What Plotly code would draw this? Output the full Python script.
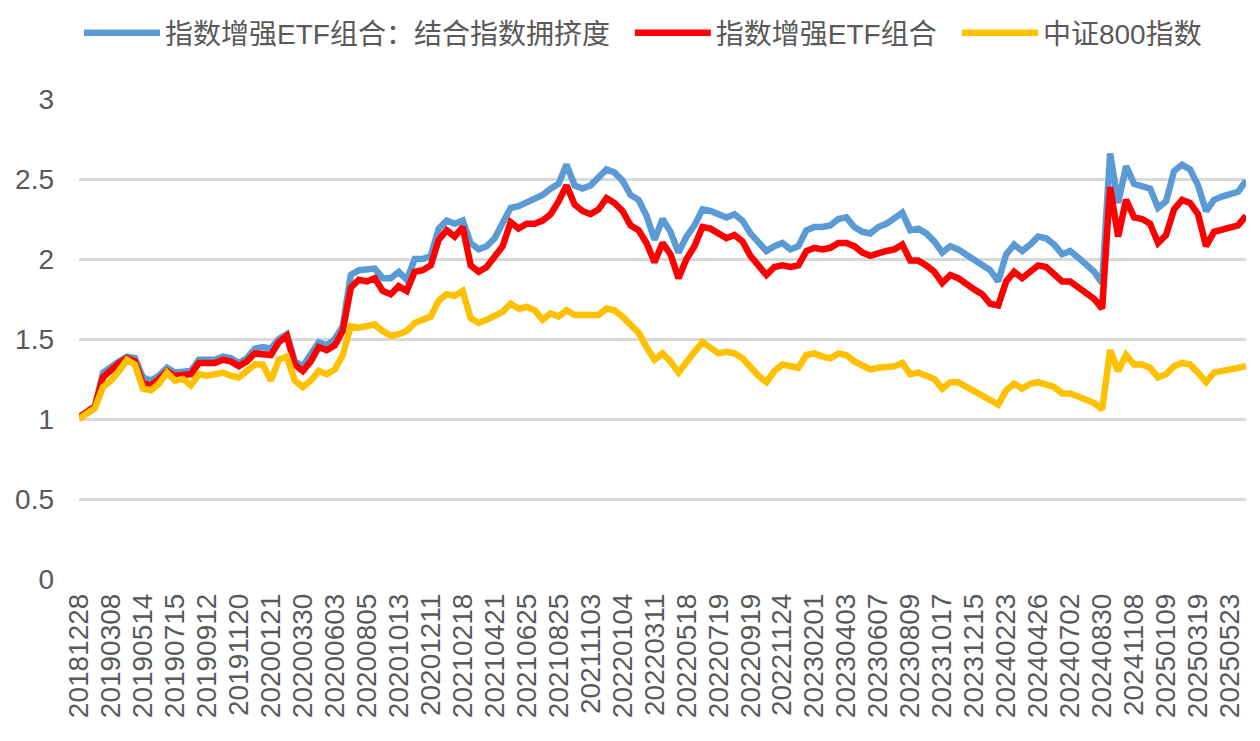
import pandas as pd
import plotly.graph_objects as go

tick_dates = ["20181228", "20190308", "20190514", "20190715", "20190912", "20191120",
              "20200121", "20200330", "20200603", "20200805", "20201013", "20201211",
              "20210218", "20210421", "20210625", "20210825", "20211103", "20220104",
              "20220311", "20220518", "20220719", "20220919", "20221124", "20230201",
              "20230403", "20230607", "20230809", "20231017", "20231215", "20240223",
              "20240426", "20240702", "20240830", "20241108", "20250109", "20250319",
              "20250523"]
tail_dates = ["20250606", "20250620"]

blue_vals = [
    1.01, 1.05, 1.08, 1.29, 1.33, 1.36, 1.39, 1.38, 1.26, 1.24,
    1.27, 1.32, 1.29, 1.30, 1.30, 1.37, 1.37, 1.37, 1.39, 1.38,
    1.35, 1.38, 1.44, 1.45, 1.44, 1.50, 1.53, 1.36, 1.33, 1.40,
    1.48, 1.46, 1.50, 1.58, 1.90, 1.93, 1.93, 1.94, 1.88, 1.88,
    1.92, 1.87, 2.00, 2.00, 2.02, 2.19, 2.24, 2.22, 2.24, 2.10,
    2.06, 2.08, 2.13, 2.22, 2.32, 2.33, 2.35, 2.37, 2.40, 2.44,
    2.47, 2.59, 2.46, 2.44, 2.46, 2.51, 2.56, 2.54, 2.49, 2.40,
    2.37, 2.27, 2.12, 2.25, 2.17, 2.04, 2.14, 2.21, 2.31, 2.30,
    2.28, 2.26, 2.28, 2.24, 2.16, 2.10, 2.05, 2.08, 2.10, 2.06,
    2.08, 2.18, 2.20, 2.20, 2.21, 2.25, 2.26, 2.20, 2.17, 2.16,
    2.20, 2.22, 2.25, 2.29, 2.18, 2.19, 2.16, 2.11, 2.04, 2.08,
    2.06, 2.03, 2.00, 1.97, 1.93, 1.86, 2.03, 2.09, 2.05, 2.09,
    2.14, 2.13, 2.09, 2.03, 2.05, 2.01, 1.97, 1.92, 1.85, 2.66,
    2.35, 2.58, 2.47, 2.45, 2.44, 2.32, 2.36, 2.55, 2.59, 2.56,
    2.46, 2.30, 2.37, 2.39, 2.40, 2.42, 2.49]

red_vals = [
    1.01, 1.05, 1.08, 1.26, 1.31, 1.35, 1.38, 1.36, 1.22, 1.21,
    1.25, 1.30, 1.27, 1.28, 1.28, 1.35, 1.35, 1.35, 1.37, 1.36,
    1.33, 1.36, 1.41, 1.41, 1.40, 1.48, 1.52, 1.34, 1.30, 1.36,
    1.45, 1.43, 1.46, 1.55, 1.82, 1.87, 1.86, 1.88, 1.80, 1.78,
    1.83, 1.80, 1.92, 1.93, 1.96, 2.12, 2.18, 2.14, 2.20, 1.96,
    1.92, 1.95, 2.01, 2.08, 2.23, 2.19, 2.22, 2.22, 2.24, 2.28,
    2.36, 2.46, 2.34, 2.30, 2.28, 2.31, 2.38, 2.35, 2.30, 2.21,
    2.18, 2.10, 1.98, 2.10, 2.03, 1.88, 2.00, 2.08, 2.20, 2.19,
    2.16, 2.13, 2.15, 2.11, 2.02, 1.96, 1.90, 1.95, 1.96, 1.95,
    1.96, 2.05, 2.07, 2.06, 2.07, 2.10, 2.10, 2.08, 2.04, 2.02,
    2.04, 2.05, 2.06, 2.09, 1.99, 1.99, 1.96, 1.92, 1.85, 1.90,
    1.88, 1.84, 1.81, 1.78, 1.72, 1.71, 1.86, 1.92, 1.88, 1.92,
    1.96, 1.95, 1.91, 1.86, 1.86, 1.82, 1.79, 1.75, 1.69, 2.45,
    2.14, 2.37, 2.26, 2.25, 2.22, 2.10, 2.15, 2.31, 2.37, 2.35,
    2.28, 2.08, 2.17, 2.18, 2.19, 2.21, 2.27]

yellow_vals = [
    1.00, 1.04, 1.07, 1.20, 1.24, 1.30, 1.37, 1.34, 1.19, 1.18,
    1.22, 1.29, 1.24, 1.25, 1.21, 1.28, 1.27, 1.28, 1.29, 1.27,
    1.26, 1.30, 1.34, 1.34, 1.24, 1.37, 1.39, 1.24, 1.20, 1.24,
    1.30, 1.28, 1.31, 1.40, 1.58, 1.57, 1.58, 1.59, 1.55, 1.52,
    1.53, 1.55, 1.60, 1.62, 1.64, 1.74, 1.78, 1.77, 1.80, 1.63,
    1.60, 1.62, 1.65, 1.67, 1.72, 1.69, 1.70, 1.68, 1.62, 1.66,
    1.64, 1.68, 1.65, 1.65, 1.64, 1.65, 1.69, 1.68, 1.64, 1.59,
    1.54, 1.45, 1.37, 1.41, 1.36, 1.29, 1.36, 1.42, 1.48, 1.45,
    1.41, 1.42, 1.41, 1.38, 1.32, 1.27, 1.23, 1.30, 1.34, 1.33,
    1.32, 1.40, 1.41, 1.39, 1.38, 1.41, 1.40, 1.36, 1.33, 1.31,
    1.32, 1.32, 1.33, 1.35, 1.28, 1.29, 1.27, 1.25, 1.19, 1.23,
    1.23, 1.20, 1.17, 1.15, 1.11, 1.09, 1.18, 1.22, 1.19, 1.22,
    1.23, 1.22, 1.20, 1.16, 1.16, 1.14, 1.12, 1.10, 1.06, 1.43,
    1.30, 1.40, 1.34, 1.34, 1.32, 1.26, 1.28, 1.33, 1.35, 1.34,
    1.29, 1.23, 1.29, 1.30, 1.30, 1.31, 1.33]

names = ["指数增强ETF组合：结合指数拥挤度", "指数增强ETF组合", "中证800指数"]
colors = ["#5B9BD5", "#FF0000", "#FFC000"]
legend_ids = ["legend", "legend2", "legend3"]
legend_x = [0.0, 0.472, 0.7523]

# category labels: tick dates plus evenly spaced dates between them
cats = []
for a, b in zip(tick_dates[:-1], tick_dates[1:]):
    da, db = pd.Timestamp(a), pd.Timestamp(b)
    for k in range(4):
        cats.append((da + (db - da) * k / 4).strftime("%Y%m%d"))
cats.append(tick_dates[-1])
cats += tail_dates

FONT = "Liberation Sans, Arial, Noto Sans CJK SC, sans-serif"
GREY = "#595959"

fig = go.Figure()
for nm, col, vals, lg in zip(names, colors, [blue_vals, red_vals, yellow_vals], legend_ids):
    fig.add_trace(go.Scatter(x=cats[:len(vals)], y=vals, mode="lines", name=nm,
                             legend=lg, line=dict(color=col, width=6.5)))

legend_common = dict(orientation="h", xanchor="left", y=1.1375, yanchor="middle",
                     font=dict(size=28, color=GREY, family=FONT), itemwidth=76,
                     bgcolor="rgba(0,0,0,0)")

# the page body adds an 8px offset, so the figure is 8px smaller than the window
fig.update_layout(
    width=1252, height=733,
    margin=dict(l=71, r=14, t=91, b=162, autoexpand=False),
    paper_bgcolor="white", plot_bgcolor="white",
    font=dict(family=FONT, color=GREY, size=28),
    showlegend=True,
    legend=dict(x=legend_x[0], **legend_common),
    legend2=dict(x=legend_x[1], **legend_common),
    legend3=dict(x=legend_x[2], **legend_common),
    xaxis=dict(type="category", categoryorder="array", categoryarray=cats,
               range=[0, len(cats) - 1], tickmode="array", tickvals=tick_dates,
               ticktext=tick_dates, tickangle=-90, showgrid=False, zeroline=False,
               showline=False, ticks="", automargin=False, ticklabelstandoff=8,
               tickfont=dict(size=28, color=GREY)),
    yaxis=dict(range=[0, 3], tickmode="array", tickvals=[0, 0.5, 1, 1.5, 2, 2.5, 3],
               ticktext=["0", "0.5", "1", "1.5", "2", "2.5", "3"],
               showgrid=True, gridcolor="#D9D9D9", gridwidth=2.5, zeroline=False,
               showline=False, ticks="", ticklabelstandoff=24, automargin=False,
               tickfont=dict(size=28, color=GREY)),
)

fig.write_html("out.html")
